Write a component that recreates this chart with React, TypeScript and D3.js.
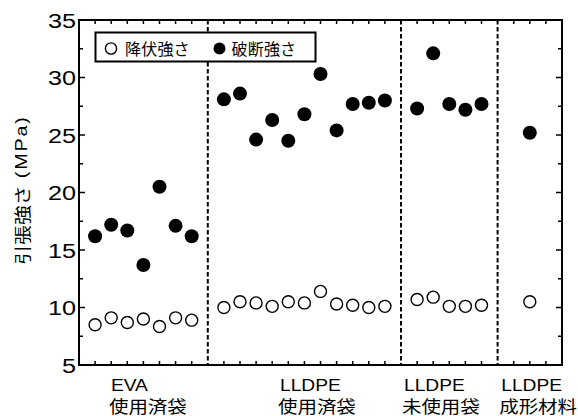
import React from 'react';
import * as d3 from 'd3';

// ---- data ----
const samplePos = [1, 2, 3, 4, 5, 6, 7, 9, 10, 11, 12, 13, 14, 15, 16, 17, 18, 19, 21, 22, 23, 24, 25, 28];
const yieldStrength = [
  8.5, 9.1, 8.7, 9.0, 8.35, 9.1, 8.9,
  10.0, 10.5, 10.4, 10.1, 10.5, 10.4, 11.4, 10.3, 10.2, 10.0, 10.1,
  10.7, 10.9, 10.1, 10.1, 10.2,
  10.5,
];
const breakStrength = [
  16.2, 17.2, 16.7, 13.7, 20.5, 17.1, 16.2,
  28.1, 28.6, 24.6, 26.3, 24.5, 26.8, 30.3, 25.4, 27.7, 27.8, 28.0,
  27.3, 32.1, 27.7, 27.2, 27.7,
  25.2,
];
const separators = [8, 20, 26];
const groupLine1 = ['EVA', 'LLDPE', 'LLDPE', 'LLDPE'];
const groupLine2 = ['使用済袋', '使用済袋', '未使用袋', '成形材料'];
const yTicks = [5, 10, 15, 20, 25, 30, 35];
const yMinorTicks = [7.5, 12.5, 17.5, 22.5, 27.5, 32.5];
const xTicks = d3.range(1, 30).filter((v) => !separators.includes(v));
const legendLabels = ['降伏強さ', '破断強さ'];
const yLabelJa = '引張強さ';
const yLabelUnit = '(MPa)';

// ---- layout ----
const W = 578;
const H = 416;
const PL = 79, PR = 562, PT = 20, PB = 365;
const groupLabelX = [1.86, 12.36, 20.06, 26.1]; // left edge in x-domain units
const LATIN = 'Liberation Sans, Arial, Helvetica, sans-serif';
const CJK = '"Noto Sans CJK JP", "Noto Sans CJK SC", sans-serif';

function SText({ x, y, sx, children, ...rest }: any) {
  return (
    <text transform={`translate(${x},${y}) scale(${sx},1)`} {...rest}>
      {children}
    </text>
  );
}

export default function App() {
  const x = d3.scaleLinear().domain([0, 30]).range([PL, PR]);
  const y = d3.scaleLinear().domain([5, 35]).range([PB, PT]);

  return (
    <svg
      width={W}
      height={H}
      style={{ position: 'absolute', left: 0, top: 0, background: '#fff' }}
    >
      <rect x={0} y={0} width={W} height={H} fill="#fff" />

      {/* separators */}
      {separators.map((s) => (
        <line
          key={'sep' + s}
          x1={x(s)}
          x2={x(s)}
          y1={PT}
          y2={PB}
          stroke="#000"
          strokeWidth={2}
          strokeDasharray="4.5,2.5"
        />
      ))}

      {/* x ticks bottom & top */}
      {xTicks.map((t) => (
        <g key={'xt' + t}>
          <line x1={x(t)} x2={x(t)} y1={PB} y2={PB - 4} stroke="#000" strokeWidth={1.5} />
          <line x1={x(t)} x2={x(t)} y1={PT} y2={PT + 4} stroke="#000" strokeWidth={1.5} />
        </g>
      ))}

      {/* y ticks */}
      {yTicks.map((t) => (
        <g key={'yt' + t}>
          <line x1={PL} x2={PL + 6} y1={y(t)} y2={y(t)} stroke="#000" strokeWidth={1.5} />
          <line x1={PR} x2={PR - 6} y1={y(t)} y2={y(t)} stroke="#000" strokeWidth={1.5} />
          <SText
            x={76}
            y={y(t) + 7.5}
            sx={1.2}
            textAnchor="end"
            fontFamily={LATIN}
            fontSize={21}
            fill="#000"
          >
            {String(t)}
          </SText>
        </g>
      ))}
      {yMinorTicks.map((t) => (
        <g key={'ym' + t}>
          <line x1={PL} x2={PL + 4} y1={y(t)} y2={y(t)} stroke="#000" strokeWidth={1.5} />
          <line x1={PR} x2={PR - 4} y1={y(t)} y2={y(t)} stroke="#000" strokeWidth={1.5} />
        </g>
      ))}

      {/* frame */}
      <rect
        x={PL}
        y={PT}
        width={PR - PL}
        height={PB - PT}
        fill="none"
        stroke="#000"
        strokeWidth={2}
      />

      {/* markers */}
      {samplePos.map((p, i) => (
        <circle
          key={'b' + i}
          cx={x(p)}
          cy={y(breakStrength[i])}
          r={7}
          fill="#000"
        />
      ))}
      {samplePos.map((p, i) => (
        <circle
          key={'y' + i}
          cx={x(p)}
          cy={y(yieldStrength[i])}
          r={6}
          fill="#fff"
          stroke="#000"
          strokeWidth={1.4}
        />
      ))}

      {/* legend */}
      <rect x={95.5} y={32.5} width={220} height={29} fill="#fff" stroke="#000" strokeWidth={2} />
      <circle cx={111} cy={48.5} r={5.6} fill="#fff" stroke="#000" strokeWidth={1.4} />
      <text x={125} y={55} fontFamily={CJK} fontSize={16} letterSpacing={0.2} fill="#000">
        {legendLabels[0]}
      </text>
      <circle cx={219.5} cy={48.5} r={6} fill="#000" />
      <text x={231.5} y={55} fontFamily={CJK} fontSize={16} letterSpacing={0.2} fill="#000">
        {legendLabels[1]}
      </text>

      {/* group labels */}
      {groupLine1.map((g, i) => (
        <g key={'gl' + i}>
          <SText
            x={x(groupLabelX[i]) + 2}
            y={391}
            sx={1.2}
            fontFamily={LATIN}
            fontSize={16}
            fill="#000"
          >
            {g}
          </SText>
          <SText
            x={x(groupLabelX[i])}
            y={412.5}
            sx={1.18}
            fontFamily={CJK}
            fontSize={16.5}
            fill="#000"
          >
            {groupLine2[i]}
          </SText>
        </g>
      ))}

      {/* y axis label */}
      <g transform={`translate(22,${190}) rotate(-90) scale(1.2,1)`}>
        <text
          x={0}
          y={0}
          textAnchor="middle"
          dominantBaseline="central"
          fontSize={16.5}
          fill="#000"
        >
          <tspan fontFamily={CJK}>{yLabelJa}</tspan>
          <tspan fontFamily={LATIN} letterSpacing={1.5}>{' ' + yLabelUnit}</tspan>
        </text>
      </g>
    </svg>
  );
}
